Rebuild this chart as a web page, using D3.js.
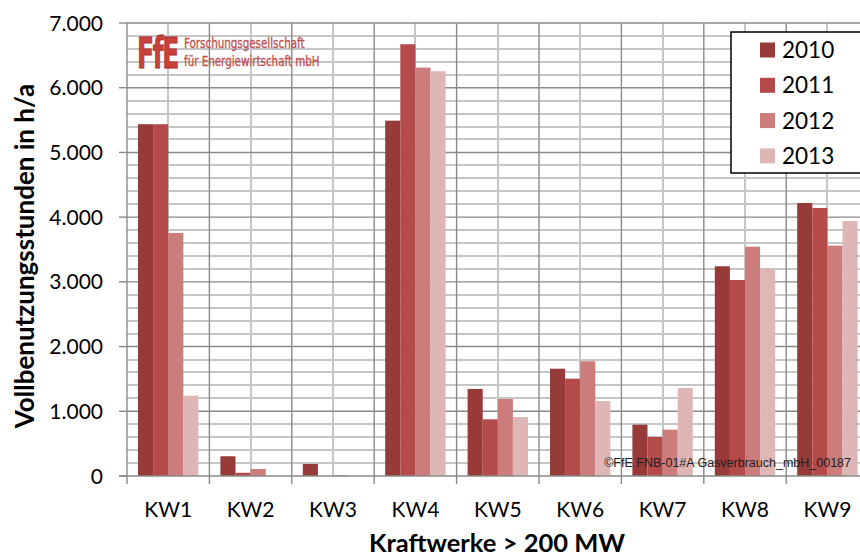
<!DOCTYPE html>
<html>
<head>
<meta charset="utf-8">
<script src="https://cdn.jsdelivr.net/npm/d3@7"></script>
<style>
  body { margin: 0; background: #fff; }
  svg { display: block; }
</style>
</head>
<body>
<div id="chart"></div>
<script>
"use strict";

var categories = ["KW1", "KW2", "KW3", "KW4", "KW5", "KW6", "KW7", "KW8", "KW9"];
var years = ["2010", "2011", "2012", "2013"];
var values2010 = [5436, 305, 185, 5491, 1345, 1658, 793, 3241, 4219];
var values2011 = [5436, 50, 0, 6672, 876, 1504, 603, 3029, 4142];
var values2012 = [3756, 108, 12, 6311, 1190, 1773, 716, 3544, 3560];
var values2013 = [1241, 0, 0, 6255, 912, 1159, 1360, 3204, 3941];
var yTicks = [0, 1000, 2000, 3000, 4000, 5000, 6000, 7000];
var minorTicks = [200, 400, 600, 800, 1200, 1400, 1600, 1800, 2200, 2400, 2600, 2800,
                  3200, 3400, 3600, 3800, 4200, 4400, 4600, 4800, 5200, 5400, 5600, 5800,
                  6200, 6400, 6600, 6800];
var colors = ["#963a3a", "#b44b4a", "#cb7c7b", "#dfb6b6"];

var series = [values2010, values2011, values2012, values2013];

var width = 860, height = 556;
var plotLeft = 127, plotRight = 868.6, plotTop = 23, plotBottom = 476;

var svg = d3.select("#chart").append("svg")
    .attr("width", width)
    .attr("height", height);

var x0 = d3.scaleBand().domain(categories).range([plotLeft, plotRight]);
var x1 = d3.scaleBand().domain(years).range([11, x0.bandwidth() - 11]);
var y = d3.scaleLinear().domain([0, 7000]).range([plotBottom, plotTop]);

var fmt = d3.formatLocale({ decimal: ",", thousands: ".", grouping: [3], currency: ["", "€"] }).format(",");

// minor gridlines
var minor = svg.append("g");
minor.selectAll("rect.h")
    .data(minorTicks)
    .enter().append("rect")
    .attr("class", "h")
    .attr("x", plotLeft)
    .attr("y", function(d) { return Math.round(y(d)) - 1; })
    .attr("width", width - plotLeft)
    .attr("height", 2)
    .attr("fill", "#c6c6c6");
minor.selectAll("rect.v")
    .data(categories)
    .enter().append("rect")
    .attr("class", "v")
    .attr("x", function(d) { return Math.round(x0(d) + x0.bandwidth() / 2) - 1; })
    .attr("y", plotTop)
    .attr("width", 2)
    .attr("height", plotBottom - plotTop)
    .attr("fill", "#c6c6c6");

// major gridlines
svg.append("g").selectAll("line")
    .data(yTicks.slice(1))
    .enter().append("line")
    .attr("x1", plotLeft).attr("x2", width)
    .attr("y1", function(d) { return y(d); })
    .attr("y2", function(d) { return y(d); })
    .attr("stroke", "#8a8a8a").attr("stroke-width", 1.4);

svg.append("g").selectAll("line")
    .data(categories.slice(1))
    .enter().append("line")
    .attr("x1", function(d) { return x0(d); })
    .attr("x2", function(d) { return x0(d); })
    .attr("y1", plotTop).attr("y2", plotBottom + 8)
    .attr("stroke", "#8a8a8a").attr("stroke-width", 1.4);

// bars
var groups = svg.append("g").selectAll("g")
    .data(categories)
    .enter().append("g")
    .attr("transform", function(d) { return "translate(" + x0(d) + ",0)"; });

groups.selectAll("rect")
    .data(function(d, i) {
      return years.map(function(yr, j) { return { year: yr, value: series[j][i], idx: j }; });
    })
    .enter().append("rect")
    .attr("x", function(d) { return x1(d.year); })
    .attr("width", x1.bandwidth())
    .attr("y", function(d) { return y(d.value); })
    .attr("height", function(d) { return plotBottom - y(d.value); })
    .attr("fill", function(d) { return colors[d.idx]; });

// axes
svg.append("line")
    .attr("x1", plotLeft).attr("x2", plotLeft)
    .attr("y1", plotTop).attr("y2", plotBottom + 8)
    .attr("stroke", "#8a8a8a").attr("stroke-width", 1.4);
svg.append("line")
    .attr("x1", plotLeft - 8).attr("x2", width)
    .attr("y1", plotBottom).attr("y2", plotBottom)
    .attr("stroke", "#8a8a8a").attr("stroke-width", 1.4);
svg.append("g").selectAll("line")
    .data(yTicks)
    .enter().append("line")
    .attr("x1", plotLeft - 8).attr("x2", plotLeft)
    .attr("y1", function(d) { return y(d); })
    .attr("y2", function(d) { return y(d); })
    .attr("stroke", "#8a8a8a").attr("stroke-width", 1.4);

svg.append("g").selectAll("text")
    .data(yTicks)
    .enter().append("text")
    .attr("x", 103)
    .attr("y", function(d) { return y(d); })
    .attr("dy", "0.36em")
    .attr("text-anchor", "end")
    .attr("font-family", "Lato, sans-serif")
    .attr("font-size", 21)
    .attr("fill", "#000")
    .text(function(d) { return fmt(d); });

svg.append("g").selectAll("text")
    .data(categories)
    .enter().append("text")
    .attr("x", function(d) { return x0(d) + x0.bandwidth() / 2; })
    .attr("y", 517)
    .attr("text-anchor", "middle")
    .attr("font-family", "Lato, sans-serif")
    .attr("font-size", 21)
    .attr("fill", "#000")
    .text(function(d) { return d; });

// axis titles
svg.append("text")
    .attr("x", 497).attr("y", 552)
    .attr("text-anchor", "middle")
    .attr("font-family", "Lato, sans-serif")
    .attr("font-weight", "bold")
    .attr("font-size", 25.5)
    .text("Kraftwerke > 200 MW");

svg.append("text")
    .attr("transform", "translate(34,256) rotate(-90)")
    .attr("text-anchor", "middle")
    .attr("font-family", "Lato, sans-serif")
    .attr("font-weight", "bold")
    .attr("font-size", 26)
    .text("Vollbenutzungsstunden in h/a");

// legend
var legend = svg.append("g");
legend.append("rect")
    .attr("x", 731).attr("y", 32)
    .attr("width", 140).attr("height", 141)
    .attr("fill", "#fff")
    .attr("stroke", "#000").attr("stroke-width", 1.5);
var items = legend.selectAll("g.item")
    .data(years)
    .enter().append("g")
    .attr("transform", function(d, i) { return "translate(0," + (50 + i * 35.3) + ")"; });
items.append("rect")
    .attr("x", 760).attr("y", -7.5)
    .attr("width", 15).attr("height", 15)
    .attr("fill", function(d, i) { return colors[i]; });
items.append("text")
    .attr("x", 782).attr("y", 0)
    .attr("dy", "0.36em")
    .attr("font-family", "Lato, sans-serif")
    .attr("font-size", 22.5)
    .text(function(d) { return d; });

// logo
var logo = svg.append("g");
logo.append("text")
    .attr("transform", "translate(137,68) scale(0.66,1)")
    .attr("font-family", "'DejaVu Sans Condensed', 'DejaVu Sans', sans-serif")
    .attr("font-weight", "bold")
    .attr("font-size", 42)
    .attr("letter-spacing", -2)
    .attr("fill", "#c9413b")
    .attr("stroke", "#a8302c").attr("stroke-width", 0.8)
    .text("FfE");
logo.append("text")
    .attr("transform", "translate(184,48) scale(0.82,1)")
    .attr("font-family", "'DejaVu Sans Condensed', sans-serif")
    .attr("font-size", 14)
    .attr("fill", "#c0504d")
    .attr("stroke", "#c0504d").attr("stroke-width", 0.3)
    .text("Forschungsgesellschaft");
logo.append("text")
    .attr("transform", "translate(184,66) scale(0.82,1)")
    .attr("font-family", "'DejaVu Sans Condensed', sans-serif")
    .attr("font-size", 14)
    .attr("fill", "#c0504d")
    .attr("stroke", "#c0504d").attr("stroke-width", 0.3)
    .text("für Energiewirtschaft mbH");

// source note
svg.append("text")
    .attr("x", 851).attr("y", 467)
    .attr("text-anchor", "end")
    .attr("font-family", "'Liberation Sans', Arial, sans-serif")
    .attr("font-size", 12.5)
    .attr("fill", "#222")
    .text("©FfE FNB-01#A Gasverbrauch_mbH_00187");
</script>
</body>
</html>
